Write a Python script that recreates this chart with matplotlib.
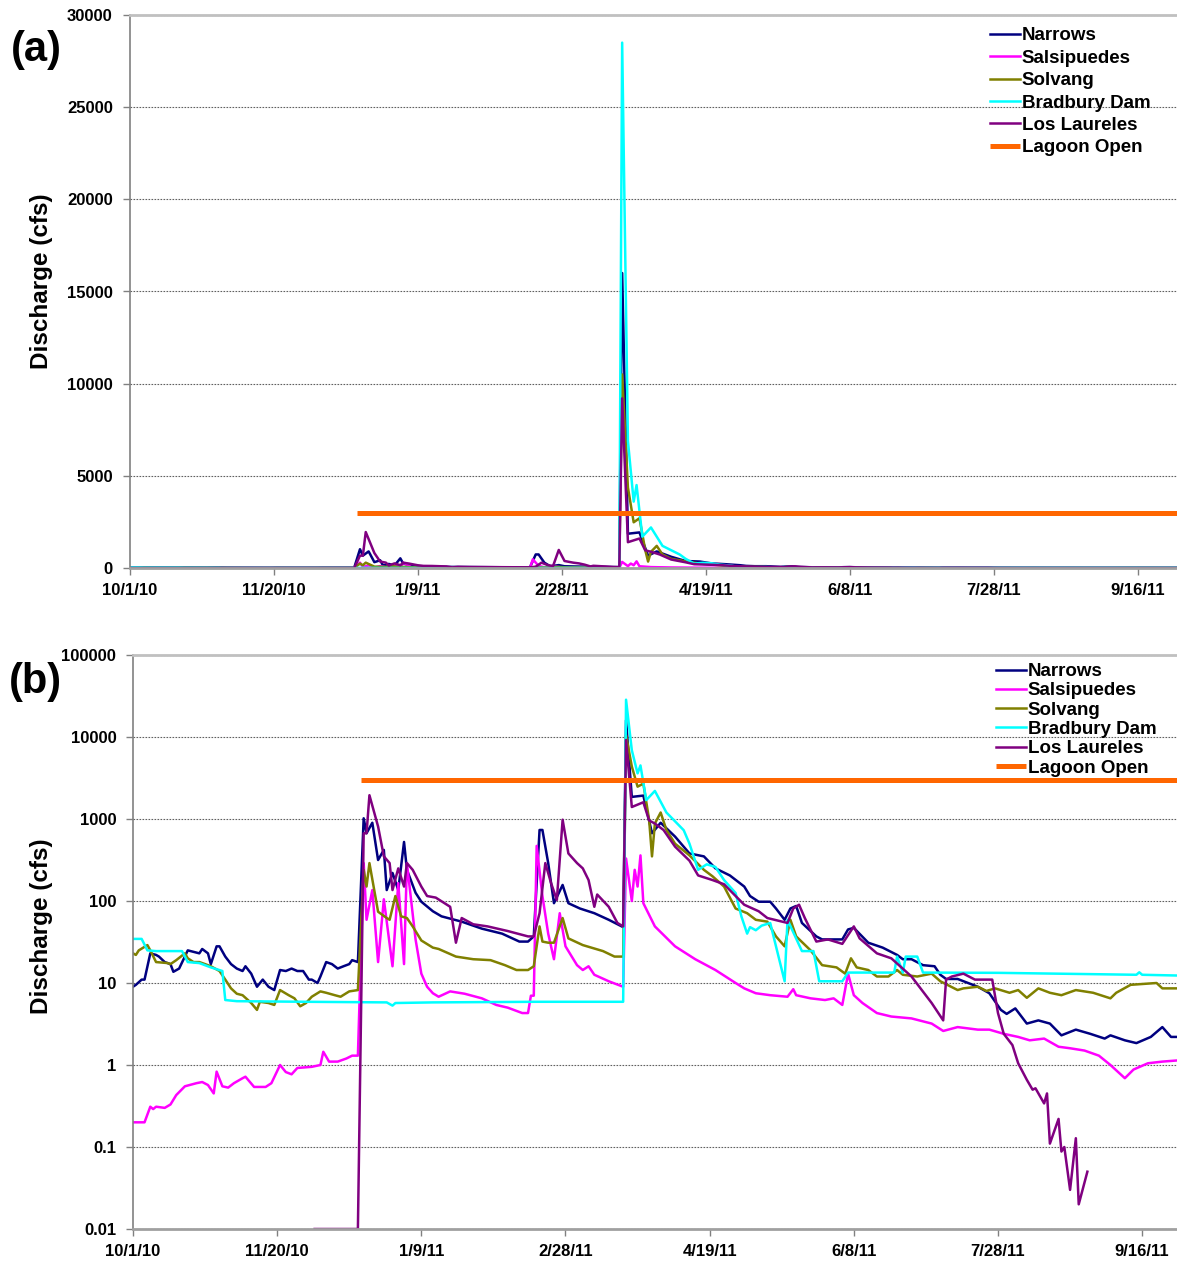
import numpy as np
import matplotlib
matplotlib.use("Agg")
import matplotlib.pyplot as plt

plt.rcParams['font.family'] = ['Liberation Sans', 'DejaVu Sans']
plt.rcParams['font.weight'] = 'bold'

# water year 2011, days counted from 10/1/10
start = np.datetime64('2010-10-01')

narrows_day = [0, 1, 3, 4, 6, 8, 9, 11, 13, 14, 16, 18, 19, 21, 23, 24, 26, 27, 29, 30,
               32, 34, 36, 38, 39, 41, 43, 45, 47, 49, 51, 53, 55, 57, 59, 61, 62, 64, 65, 67,
               69, 71, 73, 75, 76, 78, 80, 81, 83, 85, 87, 88, 90, 92, 94, 95, 98, 100, 104, 107,
               114, 121, 128, 134, 137, 139, 141, 142, 144, 146, 149, 151, 155, 160, 165, 170, 171, 173, 177, 180,
               183, 188, 193, 198, 202, 207, 212, 214, 217, 221, 223, 226, 228, 230, 232, 237, 239, 246, 248, 250,
               255, 260, 265, 267, 270, 274, 278, 280, 282, 286, 293, 297, 301, 303, 306, 310, 314, 318, 322, 327,
               332, 337, 339, 344, 348, 353, 357, 360, 364]
narrows_cfs = [9.0, 9.5, 11, 11, 23, 22, 21, 18, 17, 13.7, 15, 21, 25, 24, 23, 26, 23, 17, 28, 28,
               21, 17, 15, 14, 16, 13, 9, 11, 9, 8.2, 14.4, 14, 15, 14, 14, 11, 11, 10, 12, 18,
               17, 15, 16, 17, 19, 18, 1020, 670, 900, 316, 420, 136, 220, 136, 525, 240, 126, 98, 75, 65,
               56, 46, 40, 32, 32, 37, 735, 735, 290, 94, 157, 94, 81, 71, 59, 48, 16000, 1860, 1930, 670,
               900, 610, 380, 350, 250, 205, 150, 115, 98, 98, 81, 59, 81, 87, 54, 37, 34, 34, 45, 47,
               31, 27, 22, 19.5, 19.5, 16.5, 16, 12.6, 11.2, 11.2, 9, 7.5, 4.7, 4.2, 4.9, 3.2, 3.5, 3.2, 2.3, 2.7,
               2.4, 2.1, 2.3, 2.0, 1.85, 2.2, 2.9, 2.2, 2.2]

salsipuedes_day = [0, 4, 6, 7, 8, 11, 13, 15, 18, 22, 24, 26, 28, 29, 31, 33, 35, 38, 39, 42,
                   46, 48, 51, 53, 55, 57, 62, 65, 66, 68, 71, 74, 76, 78, 80, 81, 83, 85, 87, 90,
                   92, 94, 95, 98, 100, 102, 104, 106, 110, 115, 121, 126, 130, 135, 137, 138, 139, 140, 142, 144,
                   146, 148, 150, 154, 156, 158, 160, 165, 170, 171, 173, 174, 175, 176, 177, 181, 188, 195, 202, 209,
                   212, 216, 221, 227, 229, 230, 235, 240, 243, 246, 248, 250, 253, 258, 263, 270, 277, 281, 286, 293,
                   297, 302, 307, 311, 316, 321, 325, 330, 335, 339, 344, 347, 352, 357, 364]
salsipuedes_cfs = [0.2, 0.2, 0.31, 0.29, 0.31, 0.3, 0.33, 0.43, 0.55, 0.6, 0.62, 0.57, 0.45, 0.83, 0.55, 0.53, 0.6, 0.69, 0.72, 0.54,
                   0.54, 0.6, 1.0, 0.82, 0.77, 0.92, 0.95, 1.0, 1.45, 1.1, 1.1, 1.2, 1.3, 1.3, 290, 59, 136, 18, 105, 16,
                   165, 17, 290, 34, 13, 9, 7.5, 6.8, 7.9, 7.4, 6.5, 5.4, 5.0, 4.3, 4.3, 7, 7, 470, 115, 40,
                   19.5, 71, 28, 16.5, 14.4, 16, 12.6, 10.5, 9, 330, 100, 240, 150, 360, 94, 49, 28, 19.5, 14.4, 10,
                   8.6, 7.5, 7.1, 6.8, 8.4, 7.1, 6.5, 6.2, 6.5, 5.4, 13, 7.1, 5.7, 4.3, 3.9, 3.7, 3.2, 2.6, 2.9, 2.7,
                   2.7, 2.4, 2.2, 2.0, 2.1, 1.67, 1.6, 1.5, 1.3, 1.0, 0.69, 0.88, 1.05, 1.1, 1.15]

solvang_day = [0, 1, 2, 5, 6, 8, 12, 13, 15, 18, 19, 21, 23, 25, 27, 30, 32, 34, 36, 38,
               41, 43, 44, 47, 49, 51, 54, 56, 58, 60, 62, 65, 67, 70, 72, 75, 78, 80, 81, 82,
               85, 88, 89, 91, 93, 95, 97, 100, 104, 106, 112, 118, 124, 129, 133, 137, 139, 141, 142, 144,
               146, 149, 151, 156, 163, 167, 170, 171, 173, 175, 177, 179, 180, 181, 183, 185, 188, 193, 198, 201,
               205, 209, 213, 216, 220, 223, 226, 228, 230, 235, 239, 244, 247, 249, 251, 255, 258, 262, 265, 267,
               272, 277, 280, 286, 288, 293, 296, 299, 304, 307, 310, 314, 318, 322, 327, 333, 339, 341, 346, 355,
               357, 364]
solvang_cfs = [23, 22, 25, 29, 25, 18, 17.5, 17, 19, 23, 20, 18, 18, 17, 16, 14, 11, 8.6, 7.4, 7.1,
               5.7, 4.7, 5.9, 5.7, 5.4, 8.2, 7.1, 6.5, 5.2, 5.7, 6.8, 7.9, 7.6, 7.1, 6.8, 7.9, 8.2, 240, 150, 290,
               74, 62, 59, 115, 65, 62, 49, 33, 27, 26, 21, 19.5, 19, 16.5, 14.4, 14.4, 16, 49, 32, 31,
               31, 62, 35, 29, 24.5, 21, 21, 10500, 4370, 2480, 2700, 980, 350, 880, 1200, 735, 500, 360, 240, 200,
               150, 81, 71, 59, 56, 37, 28, 59, 37, 25, 16.5, 15.5, 13, 20, 15.5, 14.4, 12, 12, 14.4, 12.6,
               12, 13, 10.5, 8.2, 8.6, 9, 8, 8.6, 7.6, 8.2, 6.6, 8.6, 7.6, 7.1, 8.2, 7.6, 6.5, 7.6, 9.5, 10,
               8.6, 8.6]

bradbury_day = [0, 3, 5, 8, 17, 19, 23, 27, 31, 32, 36, 60, 88, 90, 91, 104, 140, 170, 171, 173,
                175, 176, 178, 181, 185, 191, 193, 196, 199, 202, 205, 209, 211, 213, 214, 216, 218, 221, 226, 227,
                232, 236, 238, 246, 248, 264, 265, 267, 268, 272, 274, 300, 348, 349, 350, 364]
bradbury_cfs = [34.5, 34.5, 25, 24.5, 24.5, 18, 17.5, 15.5, 14, 6.2, 6.0, 5.9, 5.8, 5.3, 5.7, 5.8, 5.9, 5.9, 28500, 6900,
                3600, 4500, 1700, 2200, 1200, 730, 500, 240, 280, 260, 180, 125, 65, 40, 48, 44, 50, 54, 10.5, 59,
                24.5, 24.5, 10.5, 10.5, 13.4, 13.4, 21, 13.4, 21, 21, 13.4, 13.3, 12.6, 13.5, 12.6, 12.3]

laureles_day = [0, 62, 63, 78, 80, 81, 82, 85, 87, 89, 90, 92, 94, 95, 97, 100, 102, 105, 110, 112,
                114, 118, 123, 130, 137, 139, 141, 143, 145, 147, 149, 151, 154, 156, 158, 160, 161, 165, 168, 170,
                171, 173, 177, 179, 181, 184, 188, 193, 196, 201, 205, 209, 212, 217, 220, 227, 229, 231, 233, 237,
                241, 246, 250, 252, 258, 263, 270, 277, 281, 282, 284, 288, 292, 298, 300, 302, 305, 307, 310, 312,
                313, 316, 317, 318, 321, 322, 323, 325, 327, 328, 331, 332, 364]
laureles_cfs = [0, 0, 0.01, 0.01, 670, 670, 1950, 810, 350, 290, 136, 250, 150, 290, 240, 150, 115, 110, 85, 31,
                62, 52, 49, 43, 37, 37, 71, 290, 165, 103, 980, 380, 290, 250, 180, 85, 120, 85, 54, 49,
                9200, 1400, 1600, 960, 880, 735, 460, 310, 205, 180, 160, 115, 90, 75, 62, 54, 81, 90, 62, 32,
                34, 30, 49, 35, 23, 20, 12, 5.7, 3.5, 11, 12, 13, 11, 11, 4.3, 2.4, 1.75, 1.05, 0.66, 0.5,
                0.52, 0.34, 0.45, 0.11, 0.22, 0.088, 0.1, 0.03, 0.128, 0.02, 0.05, 0, 0]

lagoon_day = [79, 364]
lagoon_cfs = [3000, 3000]

tick_days = [0, 50, 100, 150, 200, 250, 300, 350]
tick_labels = ["10/1/10", "11/20/10", "1/9/11", "2/28/11", "4/19/11", "6/8/11", "7/28/11", "9/16/11"]

series = [("Narrows", narrows_day, narrows_cfs, "#000080"),
          ("Salsipuedes", salsipuedes_day, salsipuedes_cfs, "#FF00FF"),
          ("Solvang", solvang_day, solvang_cfs, "#808000"),
          ("Bradbury Dam", bradbury_day, bradbury_cfs, "#00FFFF"),
          ("Los Laureles", laureles_day, laureles_cfs, "#800080")]


def to_dates(days):
    return start + np.array(days).astype('timedelta64[D]')


W, H = 1177, 1261
fig = plt.figure(figsize=(W / 100, H / 100), dpi=100)
ax_a = fig.add_axes([129.5 / W, 1 - 568 / H, (W - 129.5) / W, (568 - 15) / H])
ax_b = fig.add_axes([133 / W, 1 - 1229 / H, (W - 133) / W, (1229 - 655) / H])

for ax, logy in ((ax_a, False), (ax_b, True)):
    for name, d, v, c in series:
        v = np.array(v, dtype=float)
        if logy:
            v = np.where(v > 0, v, np.nan)
        ax.plot(to_dates(d), v, color=c, lw=1.8, label=name)
    ax.plot(to_dates(lagoon_day), lagoon_cfs, color="#FF6600", lw=3.6,
            solid_capstyle='butt', label="Lagoon Open")

    ax.set_xticks(to_dates(tick_days))
    ax.set_xticklabels(tick_labels)
    ax.spines['right'].set_visible(False)
    ax.spines['top'].set_color('#c0c0c0')
    ax.spines['top'].set_linewidth(2)
    ax.spines['left'].set_color('#808080')
    ax.spines['left'].set_linewidth(1.2)
    ax.spines['bottom'].set_color('#a0a0a0')
    ax.spines['bottom'].set_linewidth(2)
    ax.tick_params(axis='both', direction='out', length=5, width=1, color='#808080',
                   labelsize=12)
    ax.tick_params(axis='y', pad=7)
    ax.tick_params(axis='x', pad=6)
    ax.grid(axis='y', color='#606060', linestyle=(0, (1.5, 1.2)), lw=0.8)
    ax.set_axisbelow(True)

ax_a.set_xlim(start, start + np.timedelta64(int(363.6 * 24), 'h'))
ax_a.set_ylim(0, 30000)
ax_a.set_yticks(np.arange(0, 30001, 5000))

ax_b.set_yscale('log')
ax_b.set_xlim(start, start + np.timedelta64(int(362.1 * 24), 'h'))
ax_b.set_ylim(0.01, 100000)
ax_b.set_yticks([0.01, 0.1, 1, 10, 100, 1000, 10000, 100000])
ax_b.set_yticklabels(["0.01", "0.1", "1", "10", "100", "1000", "10000", "100000"])
ax_b.yaxis.set_minor_locator(matplotlib.ticker.NullLocator())

ax_a.legend(loc='upper left', bbox_to_anchor=(990 / W, 1 - 27 / H), bbox_transform=fig.transFigure,
            frameon=False, fontsize=13.5, handlelength=1.6, handletextpad=0.1,
            labelspacing=0.285, borderpad=0, borderaxespad=0)
ax_b.legend(loc='upper left', bbox_to_anchor=(996 / W, 1 - 663 / H), bbox_transform=fig.transFigure,
            frameon=False, fontsize=13.5, handlelength=1.6, handletextpad=0.1,
            labelspacing=0.115, borderpad=0, borderaxespad=0)

fig.text(42 / W, 1 - 281 / H, "Discharge (cfs)", rotation=90, ha='center', va='center', fontsize=17.5)
fig.text(42 / W, 1 - 926 / H, "Discharge (cfs)", rotation=90, ha='center', va='center', fontsize=17.5)
fig.text(36 / W, 1 - 50 / H, "(a)", ha='center', va='center', fontsize=30)
fig.text(35 / W, 1 - 682 / H, "(b)", ha='center', va='center', fontsize=30)

fig.savefig("out.png", dpi=100)
